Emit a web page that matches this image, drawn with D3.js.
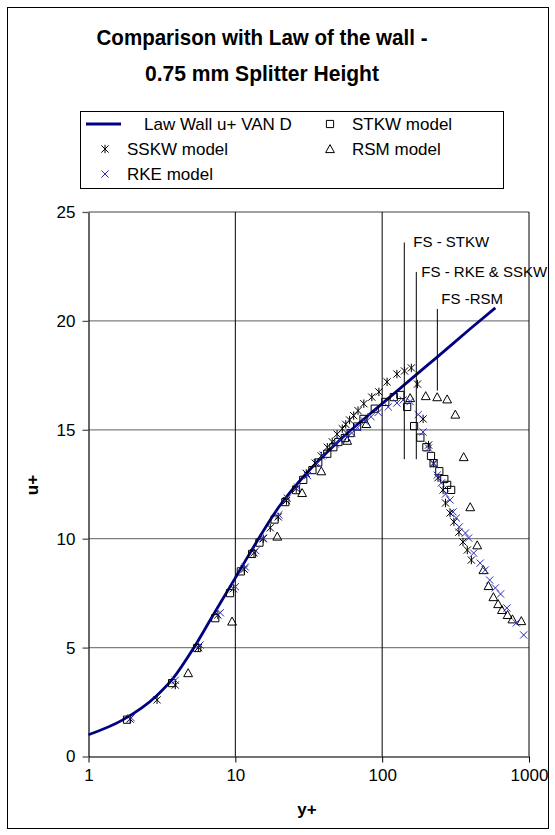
<!DOCTYPE html>
<html><head><meta charset="utf-8">
<script src="https://cdn.jsdelivr.net/npm/d3@7"></script>
<style>
body{margin:0;background:#fff}
svg{display:block}
text{font-family:"Liberation Sans",Arial,Helvetica,sans-serif;fill:#000}
</style>
</head><body>
<svg id="chart" width="555" height="835"></svg>
<script>
// Law of the wall (Van Driest) reference curve: y+ and u+
const lawYPlus = [1, 1.7, 2.9, 3.8, 5.2, 7, 10, 12.6, 20, 30, 50, 100, 174, 238, 400, 590];
const lawUPlus = [1.0, 1.67, 2.78, 3.62, 4.98, 6.45, 8.2, 9.35, 11.5, 12.95, 14.45, 16.2, 17.58, 18.35, 19.65, 20.6];

// STKW model [y+, u+]
const stkw = [[1.83,1.69],[3.71,3.37],[5.5,4.98],[7.3,6.35],[9.2,7.5],[10.9,8.5],[13.0,9.3],[14.6,9.82],
  [18.5,10.88],[21.9,11.68],[25.9,12.23],[29,12.7],[33.5,13.15],[36.7,13.5],[42.3,13.9],[46.5,14.2],
  [50.3,14.44],[55.7,14.62],[61,14.85],[67.5,15.15],[74.6,15.5],[89,15.97],[105,16.28],[120,16.5],
  [133,16.6],[148,16.05],[165,15.17],[182,14.64],[200,14.2],[215,13.8],[224,13.47],[245,13.1],
  [265,12.74],[277,12.47],[295,12.24]];

// SSKW model [y+, u+]
const sskw = [[1.92,1.72],[2.93,2.6],[3.9,3.28],[5.6,5.0],[7.6,6.5],[9.7,7.7],[11.5,8.6],[13.4,9.35],
  [15.5,10.0],[17.3,10.5],[19.6,11.0],[22.3,11.75],[26,12.3],[30.4,13.0],[35,13.47],[38.5,13.8],
  [42.3,14.2],[45.7,14.45],[49.3,14.8],[53.5,15.05],[56.5,15.25],[60,15.45],[64,15.65],[68.5,15.88],
  [75,16.2],[85,16.5],[95,16.74],[108,17.2],[126,17.56],[142,17.7],[158,17.84],[174,17.1],[190,15.5],
  [207,14.3],[224,13.47],[240,12.8],[260,12.24],[270,11.64],[290,11.18],[308,10.77],[333,10.3],
  [355,9.85],[380,9.48],[405,9.02]];

// RKE model [y+, u+]
const rke = [[1.95,1.78],[3.9,3.5],[5.75,5.12],[7.9,6.6],[10,7.8],[11.7,8.7],[13.8,9.45],[15.5,10.03],
  [19.8,11.1],[22.6,11.86],[26.5,12.37],[31,12.9],[36,13.47],[39.6,13.84],[48,14.35],[51.8,14.53],
  [57.5,14.67],[62,14.85],[68,15.1],[76,15.4],[84,15.6],[94,15.8],[110,16.05],[126,16.23],[139,16.37],
  [155,16.3],[176,15.7],[190,14.9],[207,14.16],[224,13.43],[237,12.92],[253,12.56],[270,12.05],
  [290,11.78],[304,11.23],[320,10.95],[335,10.54],[369,10.26],[388,10.03],[420,9.34],[465,8.88],
  [503,8.56],[540,8.1],[590,7.74],[640,7.46],[707,6.82],[819,6.13],[920,5.58]];

// RSM model [y+, u+]
const rsm = [[4.77,3.83],[9.5,6.2],[19.3,10.1],[28.5,12.1],[38.5,13.1],[57.8,14.5],[78,15.27],
  [155,16.46],[198,16.55],[237,16.5],[277,16.4],[315,15.7],[359,13.75],[398,11.45],[444,9.7],
  [489,8.56],[530,7.83],[572,7.32],[616,7.0],[654,6.73],[715,6.5],[771,6.3],[886,6.22]];

// Free-stream markers
const fsLabels = ["FS - STKW", "FS - RKE & SSKW", "FS -RSM"];
const fsYPlus = [141.5, 170.8, 237.6];
const fsTop = [23.6, 22.25, 20.55];
const fsBottom = [13.65, 13.65, 16.8];

const xTicks = [1, 10, 100, 1000];
const yTicks = [0, 5, 10, 15, 20, 25];

const svg = d3.select("#chart");
const x = d3.scaleLog().domain([1, 1000]).range([88.5, 529]);
const y = d3.scaleLinear().domain([0, 25]).range([756.5, 212]);

// outer frame
svg.append("rect").attr("x", 7.5).attr("y", 7.5).attr("width", 541).attr("height", 821)
  .attr("fill", "#fff").attr("stroke", "#000").attr("stroke-width", 1);

// title
const titleLines = ["Comparison with Law of the wall -", "0.75 mm Splitter Height"];
const titleWidths = [331, 234];
titleLines.forEach((t, i) => {
  svg.append("text").attr("x", 262).attr("y", 45 + i * 36).attr("text-anchor", "middle")
    .attr("font-weight", "bold").attr("font-size", 22)
    .attr("textLength", titleWidths[i]).attr("lengthAdjust", "spacingAndGlyphs").text(t);
});

// gridlines
svg.append("g").selectAll("line").data(yTicks.filter(d => d > 0)).join("line")
  .attr("x1", x(1)).attr("x2", x(1000)).attr("y1", d => y(d)).attr("y2", d => y(d))
  .attr("stroke", "#808080").attr("stroke-width", 1.3);
svg.append("g").selectAll("line").data(xTicks.filter(d => d > 1)).join("line")
  .attr("x1", d => x(d)).attr("x2", d => x(d)).attr("y1", y(0)).attr("y2", y(25))
  .attr("stroke", "#000").attr("stroke-width", 1);

// axes
const xAxis = svg.append("g").attr("transform", `translate(0,${y(0)})`)
  .call(d3.axisBottom(x).tickValues(xTicks).tickFormat(d3.format("d")).tickSize(6).tickSizeOuter(0).tickPadding(6));
xAxis.select(".domain").attr("stroke", "#444").attr("stroke-width", 1.5);
xAxis.selectAll(".tick line").attr("stroke", "#000");
xAxis.selectAll("text").attr("font-size", 17).attr("font-family", null);

const yAxis = svg.append("g").attr("transform", `translate(${x(1)},0)`)
  .call(d3.axisLeft(y).tickValues(yTicks).tickSize(6).tickSizeOuter(0).tickPadding(7));
yAxis.select(".domain").attr("stroke", "#000").attr("stroke-width", 1.2);
yAxis.selectAll(".tick line").attr("stroke", "#555").attr("stroke-width", 1.3);
yAxis.selectAll("text").attr("font-size", 17).attr("font-family", null);

// axis titles
svg.append("text").attr("transform", "translate(38,485) rotate(-90)")
  .attr("text-anchor", "middle").attr("font-weight", "bold").attr("font-size", 17).text("u+");
svg.append("text").attr("x", 307).attr("y", 815)
  .attr("text-anchor", "middle").attr("font-weight", "bold").attr("font-size", 17).text("y+");

// marker shapes
const sz = 3.6;
const shapes = {
  square: `M${-sz},${-sz}h${2*sz}v${2*sz}h${-2*sz}Z`,
  triangle: `M0,${-sz-0.8}L${sz+0.8},${sz}L${-sz-0.8},${sz}Z`,
  star: `M${-sz},${-sz}L${sz},${sz}M${-sz},${sz}L${sz},${-sz}M0,${-sz-0.6}V${sz+0.6}`,
  times: `M${-sz},${-sz}L${sz},${sz}M${-sz},${sz}L${sz},${-sz}`
};
const series = [
  {name: "STKW model", data: stkw, shape: "square", color: "#000"},
  {name: "SSKW model", data: sskw, shape: "star", color: "#000"},
  {name: "RSM model", data: rsm, shape: "triangle", color: "#000"},
  {name: "RKE model", data: rke, shape: "times", color: "#2a2ab8"}
];

// law of the wall line
const lawPts = lawYPlus.map((v, i) => [v, lawUPlus[i]]);
svg.append("path").datum(lawPts)
  .attr("d", d3.line().x(d => x(d[0])).y(d => y(d[1])).curve(d3.curveMonotoneX))
  .attr("fill", "none").attr("stroke", "#000080").attr("stroke-width", 2.8);

// model results
series.forEach(s => {
  svg.append("g").selectAll("path").data(s.data).join("path")
    .attr("transform", d => `translate(${x(d[0])},${y(d[1])})`)
    .attr("d", shapes[s.shape]).attr("fill", "none")
    .attr("stroke", s.color).attr("stroke-width", 1);
});

// free-stream markers
const fs = svg.append("g");
fsLabels.forEach((lab, i) => {
  fs.append("line").attr("x1", x(fsYPlus[i])).attr("x2", x(fsYPlus[i]))
    .attr("y1", y(fsTop[i])).attr("y2", y(fsBottom[i]))
    .attr("stroke", "#000").attr("stroke-width", 1);
});
const fsDx = [9, 5, 4], fsDy = [5, 5, -5];
fsLabels.forEach((lab, i) => {
  fs.append("text").attr("x", x(fsYPlus[i]) + fsDx[i]).attr("y", y(fsTop[i]) + fsDy[i])
    .attr("font-size", 15).text(lab);
});

// legend
const lg = svg.append("g");
lg.append("rect").attr("x", 80.5).attr("y", 111.5).attr("width", 423).attr("height", 77)
  .attr("fill", "#fff").attr("stroke", "#000").attr("stroke-width", 1);
lg.append("line").attr("x1", 86).attr("x2", 121).attr("y1", 124).attr("y2", 124)
  .attr("stroke", "#000080").attr("stroke-width", 2.8);
lg.append("text").attr("x", 144).attr("y", 130).attr("font-size", 17).text("Law Wall u+ VAN D");
const legendItems = [
  {s: series[0], x: 330, y: 124},
  {s: series[1], x: 105, y: 149},
  {s: series[2], x: 330, y: 149},
  {s: series[3], x: 105, y: 174}
];
legendItems.forEach(it => {
  lg.append("path").attr("transform", `translate(${it.x},${it.y})`)
    .attr("d", shapes[it.s.shape]).attr("fill", "none")
    .attr("stroke", it.s.color).attr("stroke-width", 1);
  lg.append("text").attr("x", it.x + 22).attr("y", it.y + 6).attr("font-size", 17).text(it.s.name);
});
</script>
</body></html>
